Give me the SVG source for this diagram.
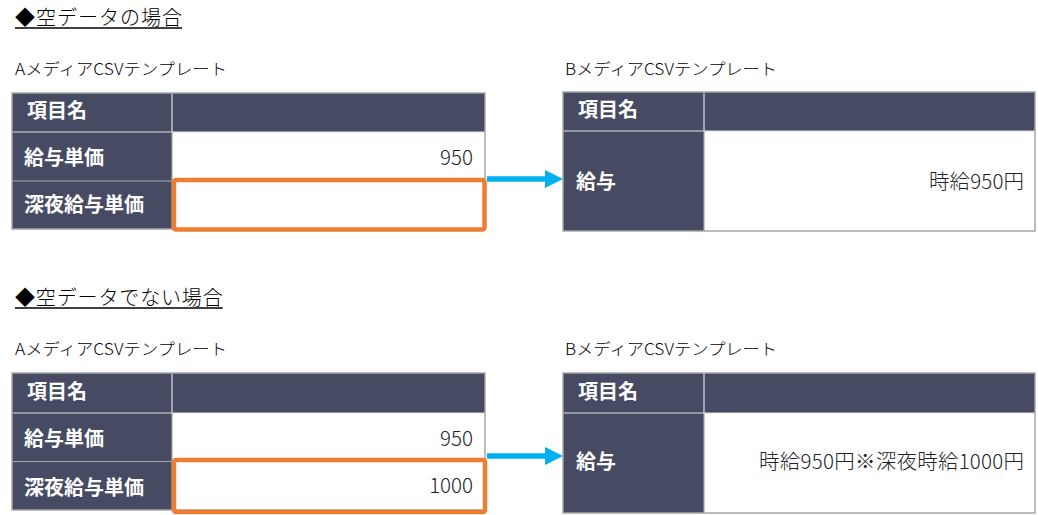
<svg xmlns="http://www.w3.org/2000/svg" width="1038" height="515" viewBox="0 0 1038 515">
<style>
  .title { font-family: "Noto Sans CJK JP", "Noto Sans", sans-serif; font-size: 20px; font-weight: 300; fill: #000; }
  .lbl { font-family: "Noto Sans CJK JP", "Noto Sans", sans-serif; font-size: 16px; font-weight: 300; fill: #000; }
  .hd { font-family: "Noto Sans CJK JP", "Noto Sans", sans-serif; font-size: 20px; font-weight: bold; fill: #fff; }
  .val { font-family: "Noto Sans CJK JP", "Noto Sans", sans-serif; font-size: 20.5px; font-weight: 300; fill: #222; text-anchor: end; }
  .dark { fill: #464A63; }
  .white { fill: #fff; }
  .outer { fill: none; stroke: #A6A6A6; stroke-width: 1.5; }
  .inner { stroke: #E0E0E0; stroke-width: 1.2; }
  .innerg { stroke: #A6A6A6; stroke-width: 1.2; }
  .hl { fill: none; stroke: #ED7D31; stroke-width: 4.5; }
  .arrow { stroke: #00B0F0; stroke-width: 5.5; fill: none; }
  .head { fill: #00B0F0; }
  .ul { stroke: #000; stroke-width: 1.3; }
</style>
<rect width="1038" height="515" fill="#fff"/>

<g id="title-empty">
  <text class="title" x="15" y="25" textLength="167" lengthAdjust="spacing">◆空データの場合</text>
  <line class="ul" x1="15" y1="28" x2="182" y2="28"/>
</g>

<g id="label-a1"><text class="lbl" x="15" y="75" textLength="212" lengthAdjust="spacingAndGlyphs">AメディアCSVテンプレート</text></g>

<g id="table-a1">
  <rect class="dark" x="12" y="93" width="473" height="39"/>
  <rect class="dark" x="12" y="132" width="160" height="97"/>
  <rect class="white" x="172" y="132" width="313" height="97"/>
  <line class="inner" x1="12" y1="132" x2="485" y2="132"/>
  <line class="inner" x1="172" y1="93" x2="172" y2="132"/>
  <line class="innerg" x1="12" y1="181" x2="485" y2="181"/>
  <line class="innerg" x1="172" y1="132" x2="172" y2="229"/>
  <rect class="outer" x="12" y="93" width="473" height="136"/>
  <text class="hd" x="27" y="117.5">項目名</text>
  <text class="hd" x="24" y="164.5">給与単価</text>
  <text class="hd" x="24" y="211.5">深夜給与単価</text>
  <text class="val" x="473" y="165">950</text>
</g>

<g id="highlight-a1"><rect class="hl" x="174" y="180" width="310.5" height="49.5" rx="2"/></g>

<g id="label-b1"><text class="lbl" x="565" y="75" textLength="212" lengthAdjust="spacingAndGlyphs">BメディアCSVテンプレート</text></g>

<g id="table-b1">
  <rect class="dark" x="563" y="92" width="472" height="39"/>
  <rect class="dark" x="563" y="131" width="141" height="100"/>
  <rect class="white" x="704" y="131" width="331" height="100"/>
  <line class="inner" x1="563" y1="131" x2="1035" y2="131"/>
  <line class="inner" x1="704" y1="92" x2="704" y2="131"/>
  <line class="innerg" x1="704" y1="131" x2="704" y2="231"/>
  <rect class="outer" x="563" y="92" width="472" height="139"/>
  <text class="hd" x="578" y="117">項目名</text>
  <text class="hd" x="576" y="189">給与</text>
  <text class="val" x="1024" y="189" textLength="95" lengthAdjust="spacing">時給950円</text>
</g>

<g id="title-notempty">
  <text class="title" x="15" y="305" textLength="207.7" lengthAdjust="spacing">◆空データでない場合</text>
  <line class="ul" x1="15" y1="308" x2="222.7" y2="308"/>
</g>

<g id="label-a2"><text class="lbl" x="15" y="355" textLength="212" lengthAdjust="spacingAndGlyphs">AメディアCSVテンプレート</text></g>

<g id="table-a2">
  <rect class="dark" x="12" y="373" width="473" height="40"/>
  <rect class="dark" x="12" y="413" width="160" height="97"/>
  <rect class="white" x="172" y="413" width="313" height="97"/>
  <line class="inner" x1="12" y1="413" x2="485" y2="413"/>
  <line class="inner" x1="172" y1="373" x2="172" y2="413"/>
  <line class="innerg" x1="12" y1="461.5" x2="485" y2="461.5"/>
  <line class="innerg" x1="172" y1="413" x2="172" y2="510"/>
  <rect class="outer" x="12" y="373" width="473" height="137"/>
  <text class="hd" x="27" y="399">項目名</text>
  <text class="hd" x="24" y="446">給与単価</text>
  <text class="hd" x="24" y="494.5">深夜給与単価</text>
  <text class="val" x="473" y="446">950</text>
  <text class="val" x="473" y="493">1000</text>
</g>

<g id="highlight-a2"><rect class="hl" x="174" y="460" width="311" height="52" rx="2"/></g>

<g id="label-b2"><text class="lbl" x="565" y="355" textLength="212" lengthAdjust="spacingAndGlyphs">BメディアCSVテンプレート</text></g>

<g id="table-b2">
  <rect class="dark" x="563" y="373" width="472" height="40"/>
  <rect class="dark" x="563" y="413" width="141" height="100"/>
  <rect class="white" x="704" y="413" width="331" height="100"/>
  <line class="inner" x1="563" y1="413" x2="1035" y2="413"/>
  <line class="inner" x1="704" y1="373" x2="704" y2="413"/>
  <line class="innerg" x1="704" y1="413" x2="704" y2="513"/>
  <rect class="outer" x="563" y="373" width="472" height="140"/>
  <text class="hd" x="578" y="399">項目名</text>
  <text class="hd" x="576" y="469">給与</text>
  <text class="val" x="1024" y="469" textLength="265" lengthAdjust="spacing">時給950円※深夜時給1000円</text>
</g>

<g id="connectors">
  <line class="arrow" x1="487" y1="179" x2="547" y2="179"/>
  <polygon class="head" points="545,170 563,179 545,188"/>
  <line class="arrow" x1="487" y1="456" x2="547" y2="456"/>
  <polygon class="head" points="545,447 563,456 545,465"/>
</g>
</svg>
